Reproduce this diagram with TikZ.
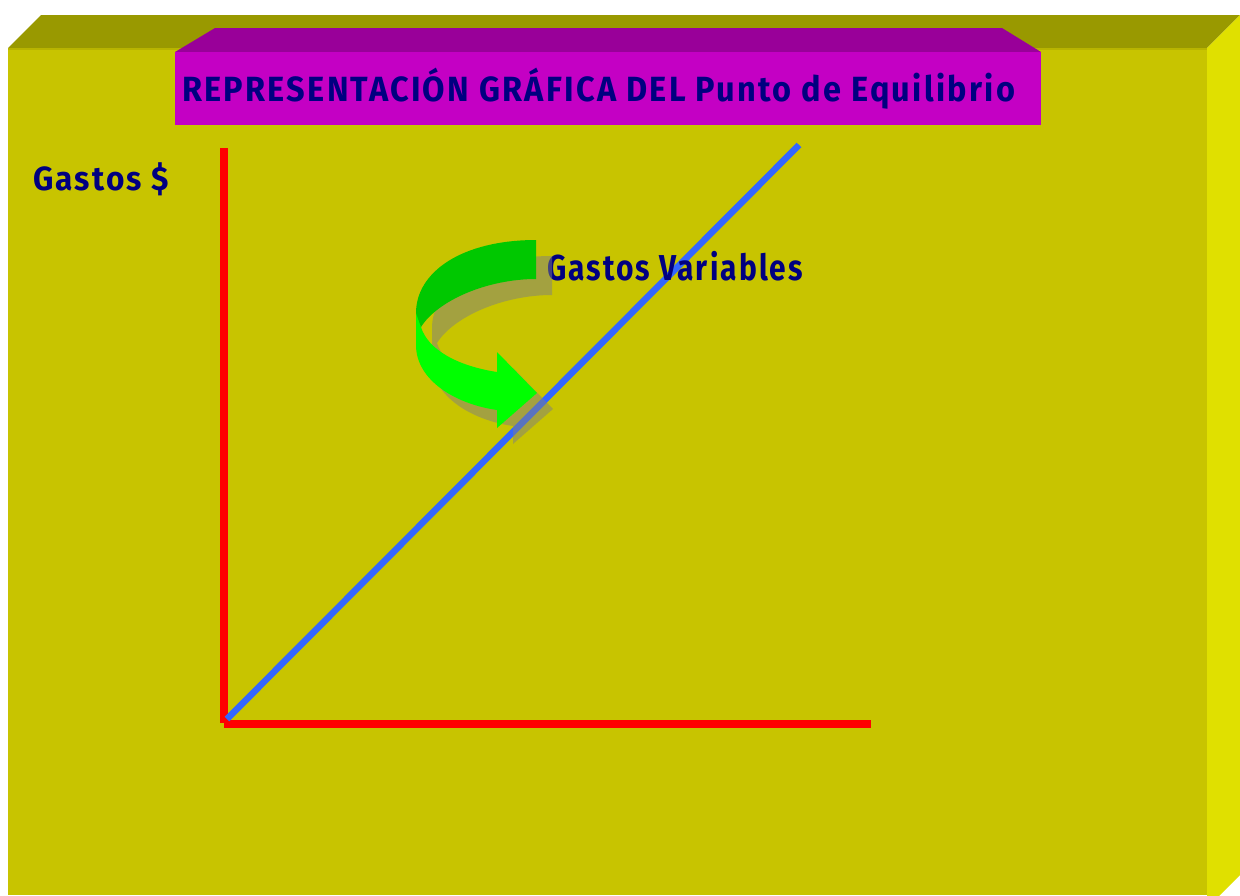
\documentclass[tikz,border=0pt]{standalone}
\usepackage{fontspec}
\usepackage{graphicx}
\setmainfont{Fira Sans}[LetterSpace=7]
\definecolor{frontol}{RGB}{200,196,0}
\definecolor{topol}{RGB}{153,153,0}
\definecolor{edgeol}{RGB}{184,180,0}
\definecolor{sideol}{RGB}{224,224,0}
\definecolor{magfront}{RGB}{196,0,196}
\definecolor{magtop}{RGB}{153,0,153}
\definecolor{navytxt}{RGB}{0,0,128}
\definecolor{blueln}{RGB}{51,102,255}
\definecolor{darkgrn}{RGB}{0,200,0}
\definecolor{brightgrn}{RGB}{0,255,0}
\definecolor{shadowgr}{RGB}{128,128,128}
\tikzset{
  facefill/.style={draw=none},
  redaxis/.style={draw=red,line width=8pt,line cap=butt},
  bluecurve/.style={draw=blueln,line width=6.5pt,line cap=butt},
  lbl/.style={inner sep=0pt,outer sep=0pt,anchor=base west,text=navytxt,font=\bfseries},
}
\begin{document}
\begin{tikzpicture}[x=1pt,y=-1pt]
\useasboundingbox (0,0) rectangle (1240,895);
\fill[white] (0,0) rectangle (1240,895);
% box faces
\fill[facefill,frontol] (8,48) rectangle (1207,895);
\fill[facefill,topol] (8,48) -- (41,15) -- (1240,15) -- (1207,48) -- cycle;
\fill[facefill,sideol] (1207,48) -- (1240,15) -- (1240,875) -- (1207,908) -- cycle;
\draw[edgeol,line width=2pt] (8,49) -- (1207,49);
% title banner
\fill[facefill,magtop] (175,52) -- (215,28) -- (1002,28) -- (1041,52) -- cycle;
\fill[facefill,magfront] (175,52) rectangle (1041,125);
\node[lbl] (title) at (182,101) {\resizebox{833pt}{\height}{\fontsize{35pt}{38pt}\selectfont REPRESENTACIÓN GRÁFICA DEL Punto de Equilibrio}};
% axes
\coordinate (ytop) at (224,148);
\coordinate (orig) at (224,723);
\coordinate (xst) at (224,724);
\coordinate (xend) at (871,724);
\coordinate (bst) at (227,719);
\coordinate (bend) at (799,145);
\draw[redaxis] (ytop) -- (orig);
\draw[redaxis] (xst) -- (xend);
\draw[bluecurve] (bst) -- (bend);
% labels
\node[lbl] (gastos) at (33,190) {\resizebox{136pt}{\height}{\fontsize{33.5pt}{36pt}\selectfont Gastos \$}};
\node[lbl] (gvar) at (547,280) {\resizebox{256pt}{\height}{\fontsize{36pt}{39pt}\selectfont Gastos Variables}};
% curved arrow shadow
\begin{scope}[shift={(16,16)}]
\fill[shadowgr,opacity=0.5] (536,240) .. controls (462,240) and (416,272) .. (416,312)
  -- (416,345) .. controls (416,380) and (455,404) .. (497,410)
  -- (497,428) -- (537,393) -- (497,352) -- (497,372)
  .. controls (458,366) and (428,350) .. (421,327)
  .. controls (438,300) and (488,279) .. (536,279) -- cycle;
\end{scope}
% curved arrow
\fill[brightgrn] (416,308) -- (416,345) .. controls (416,380) and (455,404) .. (497,410)
  -- (497,428) -- (537,393) -- (497,352) -- (497,372)
  .. controls (458,366) and (428,350) .. (421,327) -- cycle;
\fill[darkgrn] (536,240) .. controls (462,240) and (416,272) .. (416,313)
  -- (421,327) .. controls (438,300) and (488,279) .. (536,279) -- cycle;
\end{tikzpicture}
\end{document}
